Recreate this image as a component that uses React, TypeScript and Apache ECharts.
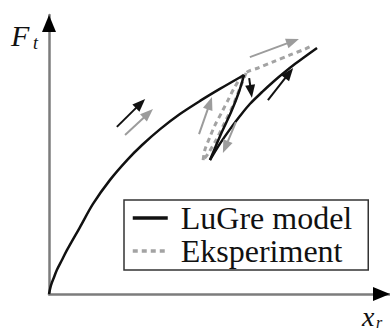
import React, { useEffect, useRef } from "react";
import * as echarts from "echarts";

// Axis ranges (abstract units: x_r and F_t)
const X_MAX = 10;
const Y_MAX = 10;

// LuGre model: initial loading branch
const lugreLoading: number[][] = [
  [0, 0], [0.06, 0.32], [0.15, 0.61], [0.23, 0.86], [0.38, 1.22], [0.53, 1.58],
  [0.91, 2.4], [1.29, 3.23], [1.79, 4.09], [2.29, 4.8], [2.73, 5.34], [3.26, 5.91],
  [3.84, 6.45], [4.43, 6.92], [5.01, 7.35], [5.72, 7.85],
];
// LuGre model: unloading branch
const lugreUnloading: number[][] = [
  [5.72, 7.85], [5.57, 7.24], [5.34, 6.52], [5.04, 5.73], [4.72, 4.8],
];
// LuGre model: reloading branch
const lugreReloading: number[][] = [
  [4.72, 4.8], [5.01, 5.38], [5.31, 5.91], [5.6, 6.38], [5.89, 6.81], [6.25, 7.24],
  [6.57, 7.6], [7.21, 8.24], [7.86, 8.82],
];
// Experiment: unloading branch
const expUnloading: number[][] = [
  [5.78, 7.92], [5.6, 7.38], [5.4, 6.77], [5.16, 6.16], [4.9, 5.52], [4.66, 5.02], [4.52, 4.8],
];
// Experiment: reloading branch
const expReloading: number[][] = [
  [4.52, 4.8], [4.57, 5.16], [4.72, 5.63], [4.87, 6.06], [5.07, 6.52], [5.25, 6.95],
  [5.43, 7.38], [5.6, 7.71], [5.81, 7.96], [6.13, 8.1], [6.57, 8.32], [7.07, 8.57],
  [7.51, 8.78], [7.74, 8.92],
];
// Direction arrows [x1, y1, x2, y2]
const blackArrows: number[][] = [
  [1.99, 5.99, 2.82, 6.99],
  [5.87, 7.74, 5.95, 7.03],
  [6.42, 6.95, 7.16, 8.1],
];
const grayArrows: number[][] = [
  [2.23, 5.7, 3.05, 6.63],
  [4.4, 5.73, 4.78, 7.06],
  [5.48, 6.16, 5.1, 5.05],
  [5.89, 8.49, 7.33, 9.14],
];
// Axis arrow heads [tipX, tipY, dirX, dirY]
const axisHeads: number[][] = [
  [X_MAX, 0, 1, 0],
  [0, Y_MAX, 0, 1],
];

const legendNames = ["LuGre model", "Eksperiment"];

const SERIF = "'Liberation Serif', 'Times New Roman', serif";
const BLACK = "#111111";
const GRAY = "#a3a3a3";

function arrowRenderer(color: string, headLen: number, headW: number, lineW: number) {
  return (_params: any, api: any) => {
    const p1 = api.coord([api.value(0), api.value(1)]);
    const p2 = api.coord([api.value(2), api.value(3)]);
    const dx = p2[0] - p1[0];
    const dy = p2[1] - p1[1];
    const len = Math.hypot(dx, dy) || 1;
    const ux = dx / len;
    const uy = dy / len;
    const bx = p2[0] - ux * headLen;
    const by = p2[1] - uy * headLen;
    const nx = (-uy * headW) / 2;
    const ny = (ux * headW) / 2;
    return {
      type: "group",
      children: [
        {
          type: "line",
          shape: { x1: p1[0], y1: p1[1], x2: bx + ux, y2: by + uy },
          style: { stroke: color, lineWidth: lineW },
        },
        {
          type: "polygon",
          shape: { points: [[p2[0], p2[1]], [bx + nx, by + ny], [bx - nx, by - ny]] },
          style: { fill: color },
        },
      ],
    };
  };
}

function headRenderer(color: string, headLen: number, headW: number) {
  return (_params: any, api: any) => {
    const p = api.coord([api.value(0), api.value(1)]);
    const ux = api.value(2);
    const uy = -api.value(3);
    const bx = p[0] - ux * headLen;
    const by = p[1] - uy * headLen;
    const nx = (-uy * headW) / 2;
    const ny = (ux * headW) / 2;
    return {
      type: "polygon",
      shape: { points: [[p[0], p[1]], [bx + nx, by + ny], [bx - nx, by - ny]] },
      style: { fill: color },
    };
  };
}

export default function App() {
  const ref = useRef<HTMLDivElement>(null);

  useEffect(() => {
    if (!ref.current) return;
    const chart = echarts.init(ref.current, null, { renderer: "svg" });

    const lugreLine = { color: BLACK, width: 2.5, type: "solid" };
    const expLine = { color: GRAY, width: 3, type: [5, 4] };

    chart.setOption({
      animation: false,
      backgroundColor: "#ffffff",
      grid: { left: 49, top: 15, right: 0, bottom: 37 },
      xAxis: {
        type: "value",
        min: 0,
        max: X_MAX,
        axisLine: { show: true, lineStyle: { color: "#7c7c7c", width: 2.5 } },
        axisTick: { show: false },
        axisLabel: { show: false },
        splitLine: { show: false },
      },
      yAxis: {
        type: "value",
        min: 0,
        max: Y_MAX,
        axisLine: { show: true, lineStyle: { color: "#7c7c7c", width: 2.5 } },
        axisTick: { show: false },
        axisLabel: { show: false },
        splitLine: { show: false },
      },
      legend: {
        data: legendNames,
        orient: "vertical",
        left: 124,
        top: 200,
        itemWidth: 35,
        itemHeight: 14,
        itemGap: 1,
        padding: [2, 16, 3, 7],
        borderColor: "#333333",
        borderWidth: 1.5,
        borderRadius: 0,
        selectedMode: false,
        itemStyle: { opacity: 0 },
        lineStyle: { width: 3.5 },
        textStyle: { fontFamily: SERIF, fontSize: 32, color: "#111", padding: [0, 0, 0, 8] },
      },
      graphic: [
        {
          type: "text",
          x: 11,
          y: 35,
          style: { text: "F", font: `italic 30px ${SERIF}`, fill: "#111", verticalAlign: "middle" },
        },
        {
          type: "text",
          x: 33,
          y: 43,
          style: { text: "t", font: `italic 18px ${SERIF}`, fill: "#111", verticalAlign: "middle" },
        },
        {
          type: "text",
          x: 362,
          y: 316,
          style: { text: "x", font: `italic 28px ${SERIF}`, fill: "#111", verticalAlign: "middle" },
        },
        {
          type: "text",
          x: 376,
          y: 322,
          style: { text: "r", font: `italic 16px ${SERIF}`, fill: "#111", verticalAlign: "middle" },
        },
      ],
      series: [
        {
          name: "LuGre model",
          type: "line",
          data: lugreLoading,
          symbol: "none",
          smooth: 0.3,
          lineStyle: lugreLine,
          itemStyle: { color: BLACK },
          z: 4,
        },
        {
          name: "LuGre model",
          type: "line",
          data: lugreUnloading,
          symbol: "none",
          smooth: 0.3,
          lineStyle: lugreLine,
          itemStyle: { color: BLACK },
          z: 4,
        },
        {
          name: "LuGre model",
          type: "line",
          data: lugreReloading,
          symbol: "none",
          smooth: 0.3,
          lineStyle: lugreLine,
          itemStyle: { color: BLACK },
          z: 4,
        },
        {
          name: "Eksperiment",
          type: "line",
          data: expUnloading,
          symbol: "none",
          smooth: 0.3,
          lineStyle: expLine,
          itemStyle: { color: GRAY },
          z: 3,
        },
        {
          name: "Eksperiment",
          type: "line",
          data: expReloading,
          symbol: "none",
          smooth: 0.3,
          lineStyle: expLine,
          itemStyle: { color: GRAY },
          z: 3,
        },
        {
          name: "blackArrows",
          type: "custom",
          data: blackArrows,
          dimensions: ["x1", "y1", "x2", "y2"],
          encode: { x: [0, 2], y: [1, 3] },
          renderItem: arrowRenderer(BLACK, 13, 10, 2),
          z: 5,
        },
        {
          name: "grayArrows",
          type: "custom",
          data: grayArrows,
          dimensions: ["x1", "y1", "x2", "y2"],
          encode: { x: [0, 2], y: [1, 3] },
          renderItem: arrowRenderer("#9c9c9c", 13, 10, 2),
          z: 5,
        },
        {
          name: "axisHeads",
          type: "custom",
          data: axisHeads,
          dimensions: ["x", "y", "dx", "dy"],
          encode: { x: 0, y: 1 },
          renderItem: headRenderer("#000000", 17, 14),
          clip: false,
          z: 6,
        },
      ],
    });

    return () => chart.dispose();
  }, []);

  return (
    <div
      ref={ref}
      style={{ position: "fixed", left: 0, top: 0, width: 390, height: 331, background: "#fff" }}
    />
  );
}
